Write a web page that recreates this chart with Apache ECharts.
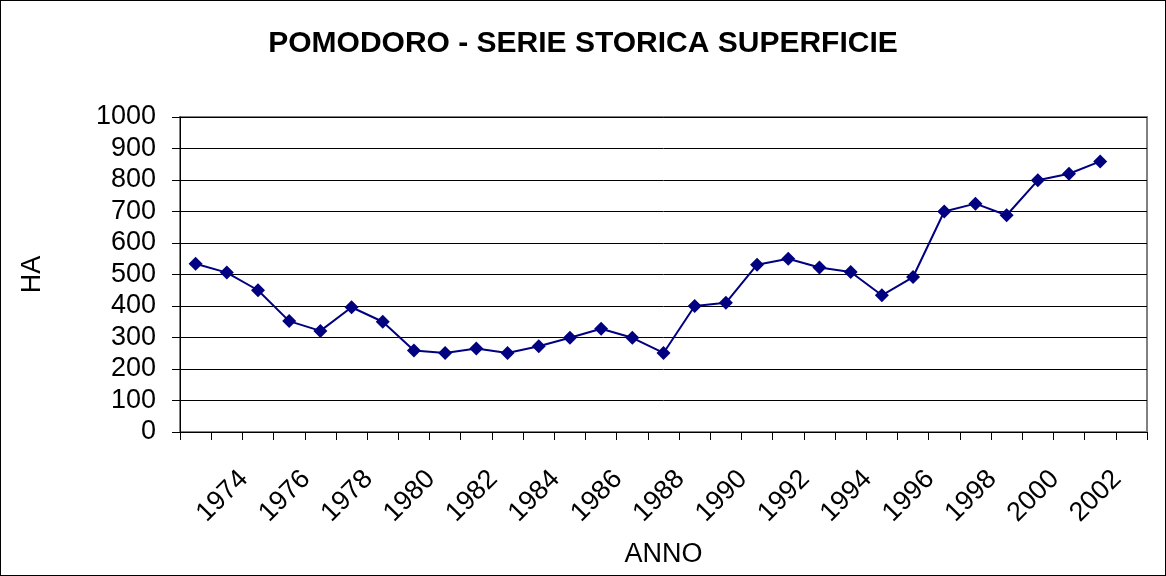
<!DOCTYPE html>
<html>
<head>
<meta charset="utf-8">
<script src="https://cdn.jsdelivr.net/npm/echarts@6/dist/echarts.min.js"></script>
<style>
  html, body { margin: 0; padding: 0; background: #fff; }
  #chart { width: 1166px; height: 576px; box-sizing: border-box; border: 1px solid #000; }
</style>
</head>
<body>
<div id="chart"></div>
<script>
// anni (l'ultima categoria e' vuota, come nell'originale)
const years = ["1973", "1974", "1975", "1976", "1977", "1978", "1979", "1980", "1981", "1982",
  "1983", "1984", "1985", "1986", "1987", "1988", "1989", "1990", "1991", "1992",
  "1993", "1994", "1995", "1996", "1997", "1998", "1999", "2000", "2001", "2002", ""];
// superficie in ettari
const superficie = [534, 506, 450, 352, 321, 396, 350, 259, 251, 265,
  251, 272, 299, 328, 299, 251, 400, 410, 531, 550,
  522, 508, 434, 492, 700, 725, 688, 799, 820, 859];
const yTicks = [0, 1000, 100]; // min, max, passo

const font = "Liberation Sans, Arial, sans-serif";
var myChart = echarts.init(document.getElementById("chart"), null, { renderer: "canvas" });

var option = {
  animation: false,
  title: {
    text: "POMODORO - SERIE STORICA SUPERFICIE",
    left: "center",
    top: 23,
    textStyle: { fontFamily: font, fontSize: 30, fontWeight: "bold", color: "#000" },
  },
  grid: {
    left: 179,
    right: 18,
    top: 116,
    bottom: 143,
    show: true,
    borderColor: "#808080",
    borderWidth: 2,
    outerBoundsMode: "none",
    containLabel: false,
  },
  xAxis: {
    type: "category",
    data: years,
    boundaryGap: true,
    name: "ANNO",
    nameLocation: "middle",
    nameGap: 105,
    nameTextStyle: { fontFamily: font, fontSize: 27, color: "#000" },
    axisLine: { lineStyle: { color: "#000", width: 1 } },
    axisTick: { show: true, interval: 0, length: 8, lineStyle: { color: "#000" } },
    axisLabel: {
      rotate: 45,
      interval: 0,
      // solo gli anni pari, come nel grafico originale
      formatter: (value, index) => (index % 2 === 1 ? value : ""),
      hideOverlap: false,
      margin: 26,
      verticalAlign: "top",
      lineHeight: 48,
      fontFamily: font,
      fontSize: 27,
      color: "#000",
    },
    splitLine: { show: false },
  },
  yAxis: {
    type: "value",
    min: yTicks[0],
    max: yTicks[1],
    interval: yTicks[2],
    name: "HA",
    nameLocation: "middle",
    nameGap: 134,
    nameRotate: 90,
    nameTextStyle: { fontFamily: font, fontSize: 27, color: "#000" },
    axisLine: { show: true, lineStyle: { color: "#000", width: 1 } },
    axisTick: { show: true, length: 8, lineStyle: { color: "#000" } },
    axisLabel: {
      margin: 24,
      fontFamily: font,
      fontSize: 27,
      color: "#000",
      formatter: (v) => String(v),
    },
    splitLine: { show: true, lineStyle: { color: "#000", width: 1 } },
  },
  series: [
    {
      name: "Superficie",
      type: "line",
      data: superficie,
      symbol: "diamond",
      symbolSize: 14,
      itemStyle: { color: "#000080" },
      lineStyle: { color: "#000080", width: 2 },
    },
  ],
};
option && myChart.setOption(option);
</script>
</body>
</html>
